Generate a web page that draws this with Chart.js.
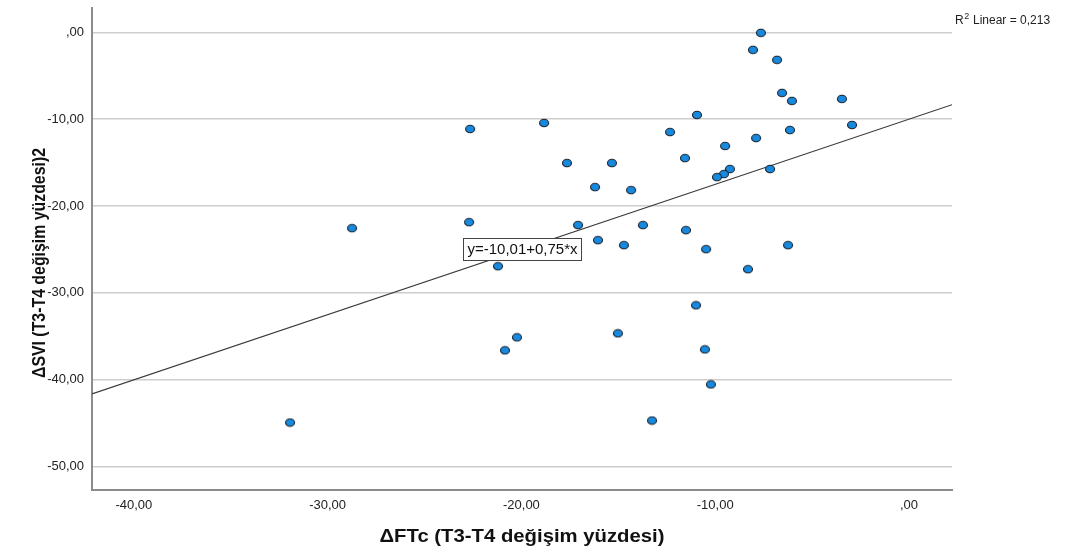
<!DOCTYPE html>
<html><head><meta charset="utf-8">
<script src="https://cdn.jsdelivr.net/npm/chart.js@4.4.1/dist/chart.umd.min.js"></script>
<style>html,body{margin:0;padding:0;background:#fff}#wrap{width:1076px;height:550px;position:relative}</style>
</head><body><div id="wrap"><canvas id="c" width="1076" height="550"></canvas></div>
<script>
// ---- data ----
const ftcChange = [-7.64,-8.05,-6.81,-6.55,-6.04,-3.46,-2.94,-6.14,-7.89,-10.94,-12.33,-9.49,-11.56,-7.17,-9.24,-9.55,-9.91,-15.33,-17.65,-18.83,-22.65,-16.20,-14.34,-22.70,-17.08,-13.73,-11.51,-28.74,-16.05,-14.71,-10.47,-6.24,-21.21,-8.31,-10.99,-15.02,-20.23,-20.85,-10.53,-10.22,-13.26,-31.94];
const sviChange = [-0.06,-2.02,-3.17,-6.98,-7.90,-7.67,-10.67,-11.25,-12.17,-9.52,-11.48,-13.09,-14.48,-15.74,-15.74,-16.32,-16.67,-15.05,-15.05,-10.44,-11.13,-17.82,-18.17,-21.86,-22.20,-22.20,-22.78,-22.55,-23.93,-24.51,-24.97,-24.51,-26.93,-27.28,-31.43,-34.66,-35.12,-36.62,-36.51,-40.54,-44.70,-44.93];
const xTickValues = [-40,-30,-20,-10,0];
const yTickValues = [0,-10,-20,-30,-40,-50];
const fitIntercept = -10.01;
const fitSlope = 0.75;
const rSquared = '0,213';
const equationText = 'y=-10,01+0,75*x';
const xTitle = 'ΔFTc (T3-T4 değişim yüzdesi)';
const yTitle = 'ΔSVI (T3-T4 değişim yüzdesi)2';
const xMin = -42.16, xMax = 2.22, yMin = -52.7, yMax = 2.8;

const FONT = '"Liberation Sans", Arial, Helvetica, sans-serif';

function fmt(v){
  let s = Math.abs(v).toFixed(2).replace('.', ',');
  if (s.startsWith('0,')) s = s.slice(1);
  return (v < 0 ? '-' : '') + s;
}
function makeMarker(){
  const c = document.createElement('canvas'); c.width = 12; c.height = 10;
  const g = c.getContext('2d');
  g.beginPath(); g.ellipse(6, 5, 4.5, 3.8, 0, 0, Math.PI*2);
  g.fillStyle = '#1789de'; g.fill();
  g.lineWidth = 1.1; g.strokeStyle = '#18222e'; g.stroke();
  return c;
}
const points = ftcChange.map((x, i) => ({x, y: sviChange[i]}));
const fitLine = [xMin, xMax].map(x => ({x, y: fitIntercept + fitSlope * x}));

const annotations = {
  id: 'annotations',
  afterDatasetsDraw(chart){
    const {ctx, chartArea: a} = chart;
    ctx.save();
    // equation box
    ctx.font = '15px ' + FONT;
    const bx = a.left + 371, by = a.top + 230, bw = 118, bh = 22;
    ctx.fillStyle = '#fff'; ctx.fillRect(bx, by, bw, bh);
    ctx.strokeStyle = '#444'; ctx.lineWidth = 1; ctx.strokeRect(bx + 0.5, by + 0.5, bw, bh);
    ctx.fillStyle = '#111'; ctx.textAlign = 'center'; ctx.textBaseline = 'middle';
    const ew = ctx.measureText(equationText).width;
    ctx.save(); ctx.translate(bx + bw/2 + 0.5, by + bh/2 + 1); ctx.scale(Math.min(1, 114/ew), 1);
    ctx.fillText(equationText, 0, 0); ctx.restore();
    ctx.restore();
  },
  afterDraw(chart){
    const {ctx, chartArea: a} = chart;
    ctx.save();
    ctx.fillStyle = '#111';
    // x title
    ctx.font = 'bold 18px ' + FONT;
    ctx.textAlign = 'center'; ctx.textBaseline = 'middle';
    let w = ctx.measureText(xTitle).width;
    ctx.save(); ctx.translate((a.left + a.right)/2, a.bottom + 47); ctx.scale(285/w, 1);
    ctx.fillText(xTitle, 0, 0); ctx.restore();
    // y title
    ctx.font = 'bold 19px ' + FONT;
    w = ctx.measureText(yTitle).width;
    ctx.save(); ctx.translate(a.left - 52, (a.top + a.bottom)/2 + 14); ctx.rotate(-Math.PI/2); ctx.scale(230/w, 1);
    ctx.fillText(yTitle, 0, 0); ctx.restore();
    // R2 label
    ctx.fillStyle = '#222';
    ctx.textAlign = 'left'; ctx.textBaseline = 'alphabetic';
    let x0 = a.right + 3, y0 = 24;
    ctx.font = '12px ' + FONT;
    ctx.fillText('R', x0, y0); x0 += ctx.measureText('R').width;
    ctx.font = '9px ' + FONT;
    ctx.fillText('2', x0 + 0.5, y0 - 5); x0 += ctx.measureText('2').width + 1;
    ctx.font = '12px ' + FONT;
    ctx.fillText(' Linear = ' + rSquared, x0, y0);
    ctx.restore();
  }
};

const keepTicks = vals => scale => { scale.ticks = vals.map(v => ({value: v})); };

new Chart(document.getElementById('c'), {
  type: 'scatter',
  data: {
    datasets: [
      {label: 'ΔSVI', data: points, pointStyle: makeMarker(), pointRadius: 5, pointHoverRadius: 5, order: 0},
      {type: 'line', label: 'Fit', data: fitLine, borderColor: '#3a3a3a', borderWidth: 1.1, pointRadius: 0, fill: false, order: 1}
    ]
  },
  options: {
    responsive: false, animation: false, devicePixelRatio: 1,
    layout: {padding: {left: 0, right: 124, top: 8, bottom: 0}},
    plugins: {legend: {display: false}, tooltip: {enabled: false}},
    scales: {
      x: {
        type: 'linear', min: xMin, max: xMax,
        afterFit: s => { s.height = 60; s.paddingLeft = 0; s.paddingRight = 0; },
        afterBuildTicks: keepTicks(xTickValues),
        grid: {display: false, drawTicks: false},
        border: {display: true, color: '#8c8c8c', width: 2},
        ticks: {includeBounds: false, autoSkip: false, maxRotation: 0, padding: 8, color: '#222', font: {family: FONT, size: 13}, callback: v => fmt(v)}
      },
      y: {
        type: 'linear', min: yMin, max: yMax,
        afterFit: s => { s.width = 92; s.paddingTop = 0; s.paddingBottom = 0; },
        afterBuildTicks: keepTicks(yTickValues),
        grid: {display: true, drawTicks: false, color: '#cdcdcd', lineWidth: 1.5},
        border: {display: true, color: '#8c8c8c', width: 2},
        ticks: {includeBounds: false, autoSkip: false, padding: 8, color: '#222', font: {family: FONT, size: 13}, callback: v => fmt(v)}
      }
    }
  },
  plugins: [annotations]
});
</script></body></html>
